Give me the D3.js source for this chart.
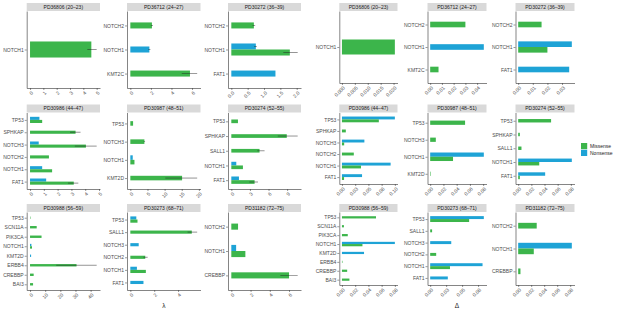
<!DOCTYPE html>
<html><head><meta charset="utf-8">
<script src="https://cdn.jsdelivr.net/npm/d3@7"></script>
<style>
body{margin:0;background:#fff}
text{font-family:"Liberation Sans",Arial,sans-serif}
</style>
</head><body>
<svg id="chart" width="617" height="309"></svg>
<script>
// facets, top-to-bottom gene order per facet
const samples = ["PD36806 (20–23)", "PD36712 (24–27)", "PD30272 (36–39)",
  "PD30986 (44–47)", "PD30987 (48–51)", "PD30274 (52–55)",
  "PD30988 (56–59)", "PD30273 (68–71)", "PD31182 (72–75)"];

const genes = [
  ["NOTCH1"],
  ["NOTCH2", "NOTCH1", "KMT2C"],
  ["NOTCH2", "NOTCH1", "FAT1"],
  ["TP53", "SPHKAP", "NOTCH3", "NOTCH2", "NOTCH1", "FAT1"],
  ["TP53", "NOTCH3", "NOTCH1", "KMT2D"],
  ["TP53", "SPHKAP", "SALL1", "NOTCH1", "FAT1"],
  ["TP53", "SCN11A", "PIK3CA", "NOTCH1", "KMT2D", "ERBB4", "CREBBP", "BAI3"],
  ["TP53", "SALL1", "NOTCH3", "NOTCH2", "NOTCH1", "FAT1"],
  ["NOTCH2", "NOTCH1", "CREBBP"]
];

// lambda (left figure)
const lambdaMissense = [
  [4.6],
  [2.1, null, 5.8],
  [0.69, 1.79, null],
  [0.88, 3.3, 4.05, 1.37, 1.6, 3.17],
  [0.8, 4.1, 1.2, 15.1],
  [1.07, 8.94, 4.55, 1.87, 3.75],
  [0.3, 4.4, 7.6, 1.3, null, 30.7, 2.4, 2.0],
  [0.6, 5.15, null, 1.25, 1.3, null],
  [0.7, 1.46, 6.0]
];
const lambdaNonsense = [
  [null],
  [null, 1.85, null],
  [null, 0.75, 1.35],
  [0.68, null, 0.63, null, 0.88, 1.17],
  [null, null, 0.7, null],
  [null, null, null, 0.8, 1.23],
  [null, null, null, 0.9, 0.7, null, null, null],
  [0.5, null, 0.7, null, 0.55, 1.1],
  [null, 0.5, null]
];
const lambdaMissenseCI = [
  [[4.3, 5.0]],
  [[2.0, 2.2], null, [5.0, 6.5]],
  [[0.65, 0.73], [1.59, 2.03], null],
  [null, [2.9, 3.66], [3.25, 4.83], null, null, [2.75, 3.5]],
  [null, [3.9, 4.3], null, [10.2, 19.5]],
  [null, [7.5, 10.7], [4.2, 5.36], null, [2.9, 4.3]],
  [null, null, null, null, null, [17.3, 44], null, null],
  [null, [4.8, 5.6], null, [1.1, 1.45], null, null],
  [null, null, [5.1, 6.9]]
];
const lambdaNonsenseCI = [
  [null],
  [null, [1.75, 1.95], null],
  [null, [0.7, 0.78], null],
  [null, null, null, null, null, null],
  [null, null, null, null],
  [null, null, null, null, null],
  [null, null, null, null, null, null, null, null],
  [null, null, null, null, null, null],
  [null, null, null]
];
const lambdaTickStep = [1, 2, 0.5, 1, 5, 3, 10, 2, 2];

// delta (right figure)
const deltaMissense = [
  [0.0205],
  [0.030, null, 0.0071],
  [0.016, 0.020, null],
  [0.0697, 0.0073, 0.0042, 0.0224, 0.036, 0.004],
  [0.0527, 0.0085, 0.0345, 0.0008],
  [0.050, 0.0025, 0.005, 0.032, 0.0025],
  [0.0515, 0.003, 0.0088, 0.031, null, 0.0008, 0.0079, 0.0113],
  [0.061, 0.003, null, 0.0094, 0.031, null],
  [0.0285, 0.024, 0.0035]
];
const deltaNonsense = [
  [null],
  [null, 0.0457, null],
  [null, 0.0367, 0.0349],
  [0.100, null, 0.0424, null, 0.092, 0.038],
  [null, null, 0.081, null],
  [null, null, null, 0.0815, 0.041],
  [null, null, null, 0.080, 0.0334, null, null, null],
  [0.084, null, 0.033, null, 0.082, 0.0276],
  [null, 0.0825, null]
];
const deltaTickStep = [0.005, 0.01, 0.01, 0.025, 0.02, 0.02, 0.02, 0.025, 0.02];

const types = ["Missense", "Nonsense"];
const colors = {Missense: "#3cb54b", Nonsense: "#1ea3d6"};

const svg = d3.select("#chart");

function drawFigure(cfg) {
  samples.forEach(function(name, i) {
    var col = i % 3, row = Math.floor(i / 3)
      , x0 = cfg.cols[col][0], x1 = cfg.cols[col][1]
      , sTop = cfg.rows[row][0], pTop = sTop + 8, pBot = cfg.rows[row][1]
      , g = genes[i], n = g.length;

    // collect bars for this facet
    var bars = [];
    g.forEach(function(gene, k) {
      var mv = cfg.miss[i][k], nv = cfg.non[i][k];
      var both = mv != null && nv != null;
      if (nv != null) bars.push({k: k, type: "Nonsense", v: nv, off: both ? -0.125 : 0,
        ci: cfg.nonCI ? cfg.nonCI[i][k] : null});
      if (mv != null) bars.push({k: k, type: "Missense", v: mv, off: both ? 0.125 : 0,
        ci: cfg.missCI ? cfg.missCI[i][k] : null});
    });

    var vmax = d3.max(bars, d => d.ci ? Math.max(d.v, d.ci[1]) : d.v);
    var x = d3.scaleLinear().domain([-0.05 * vmax, 1.05 * vmax]).range([x0, x1]);
    var y = d3.scaleLinear().domain([0.4, n + 0.6]).range([pTop, pBot]);

    var panel = svg.append("g").attr("class", "panel");

    // strip
    panel.append("rect").attr("x", x0).attr("y", sTop).attr("width", x1 - x0)
      .attr("height", pTop - sTop).attr("fill", "#d9d9d9");
    panel.append("text").attr("x", (x0 + x1) / 2).attr("y", (sTop + pTop) / 2)
      .attr("dy", "0.36em").attr("text-anchor", "middle")
      .attr("font-size", 5).attr("fill", "#1a1a1a").text(name);

    // bars
    panel.selectAll(".bar").data(bars).enter().append("rect")
      .attr("x", x(0))
      .attr("y", d => y(d.k + 1 + d.off - 0.125))
      .attr("width", d => Math.max(0, x(d.v) - x(0)))
      .attr("height", d => y(d.k + 1 + d.off + 0.125) - y(d.k + 1 + d.off - 0.125))
      .attr("fill", d => colors[d.type]);

    // error bars
    panel.selectAll(".err").data(bars.filter(d => d.ci)).enter().append("line")
      .attr("x1", d => x(d.ci[0])).attr("x2", d => x(d.ci[1]))
      .attr("y1", d => y(d.k + 1 + d.off)).attr("y2", d => y(d.k + 1 + d.off))
      .attr("stroke", "#222").attr("stroke-width", 0.6).attr("opacity", 0.8);

    // axes
    var step = cfg.steps[i];
    var ticks = d3.range(0, vmax * 1.05 + step * 1e-6, step);
    var fmt = d3.format("." + d3.precisionFixed(step) + "f");

    var xa = panel.append("g").attr("transform", "translate(0," + pBot + ")")
      .call(d3.axisBottom(x).tickValues(ticks).tickFormat(fmt).tickSize(2).tickSizeOuter(0));
    xa.selectAll("text").attr("y", 0).attr("dy", "0.35em")
      .attr("transform", function(d) { return "translate(1.6,4) rotate(-45)"; })
      .style("text-anchor", "end");

    var ya = panel.append("g").attr("transform", "translate(" + x0 + ",0)")
      .call(d3.axisLeft(y).tickValues(d3.range(1, n + 1)).tickFormat(d => g[d - 1])
        .tickSize(2).tickSizeOuter(0));
    ya.selectAll("text").attr("x", -3);

    panel.selectAll(".domain").attr("stroke", "#333").attr("stroke-width", 0.6);
    panel.selectAll(".tick line").attr("stroke", "#333").attr("stroke-width", 0.5);
    panel.selectAll(".tick text").attr("font-size", 5).attr("fill", "#4d4d4d")
      .attr("font-family", "Liberation Sans, Arial, sans-serif");
  });

  svg.append("text").attr("x", (cfg.cols[0][0] + cfg.cols[2][1]) / 2).attr("y", 308)
    .attr("text-anchor", "middle").attr("font-size", 6.5).attr("fill", "#1a1a1a")
    .text(cfg.title);
}

drawFigure({
  cols: [[26.7, 100], [127, 200.5], [228, 301]],
  rows: [[3, 88], [104.5, 189], [204, 290]],
  miss: lambdaMissense, non: lambdaNonsense,
  missCI: lambdaMissenseCI, nonCI: lambdaNonsenseCI,
  steps: lambdaTickStep, title: "λ"
});

drawFigure({
  cols: [[339.3, 397.5], [427.5, 486.5], [515.5, 574.5]],
  rows: [[3, 83], [104.5, 184], [204, 285]],
  miss: deltaMissense, non: deltaNonsense,
  missCI: null, nonCI: null,
  steps: deltaTickStep, title: "Δ"
});

// legend
var legend = svg.append("g").attr("transform", "translate(581,143)");
types.forEach(function(t, i) {
  legend.append("rect").attr("x", 0).attr("y", i * 6.8).attr("width", 6.2).attr("height", 6.2)
    .attr("fill", colors[t]);
  legend.append("text").attr("x", 9).attr("y", i * 6.8 + 3.1).attr("dy", "0.36em")
    .attr("font-size", 5).attr("fill", "#1a1a1a").text(t);
});
</script>
</body></html>
